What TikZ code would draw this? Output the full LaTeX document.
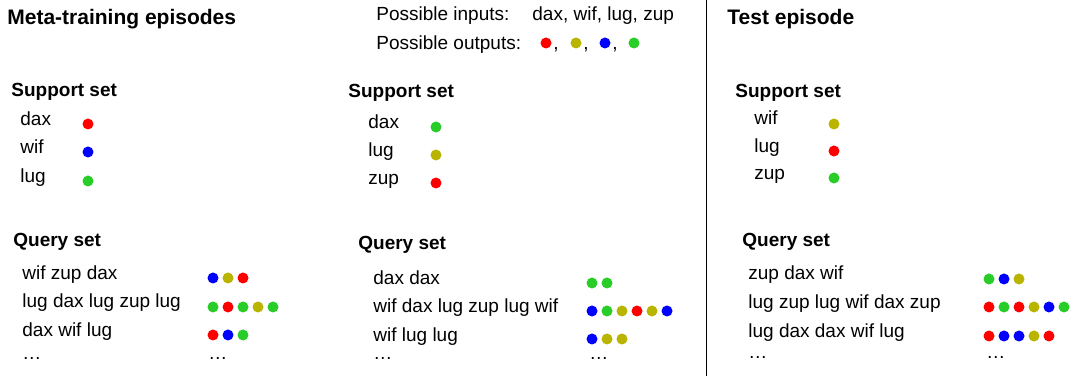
\documentclass[tikz,border=0pt]{standalone}
\usepackage{fontspec}
\setmainfont{Liberation Sans}
\definecolor{dotred}{RGB}{255,0,0}
\definecolor{dotolive}{RGB}{185,180,0}
\definecolor{dotblue}{RGB}{0,0,255}
\definecolor{dotgreen}{RGB}{40,205,40}
% a row of coloured dots: name, x, y, colours
\newcommand{\dotrow}[4]{%
  \foreach \c [count=\i] in {#4}
    {\node[dot node,fill=\c] (#1-\i) at ({#2+15*(\i-1)},#3) {};}}

\begin{document}
\begin{tikzpicture}
        [
        x = 0.5pt, y = -0.5pt,
        ]
        \tikzstyle{title node}=[anchor=base west,inner sep=0,font=\fontsize{10.5}{12}\selectfont\bfseries]
        \tikzstyle{head node}=[anchor=base west,inner sep=0,font=\fontsize{9.5}{11}\selectfont\bfseries]
        \tikzstyle{word node}=[anchor=base west,inner sep=0,font=\fontsize{9.5}{11}\selectfont]
        \tikzstyle{dot node}=[circle,inner sep=0,minimum size=5.5pt]

        \useasboundingbox (0,0) rectangle (1078,378);

        % meta-training, first episode
        \node[title node] (meta) at (7,25) {Meta-training episodes};
        \node[head node] (sup1) at (11,97) {Support set};
        \node[word node] (sup1-a) at (20,126) {dax};
        \node[word node] (sup1-b) at (20,154) {wif};
        \node[word node] (sup1-c) at (20,183) {lug};
        \dotrow{sdot1a}{88}{124}{dotred}
        \dotrow{sdot1b}{88}{152}{dotblue}
        \dotrow{sdot1c}{88}{181}{dotgreen}
        \node[head node] (qry1) at (13,247) {Query set};
        \node[word node] (qry1-a) at (22,280) {wif zup dax};
        \node[word node] (qry1-b) at (22,308) {lug dax lug zup lug};
        \node[word node] (qry1-c) at (22,337) {dax wif lug};
        \node[word node] (qry1-d) at (22,360) {…};
        \dotrow{qdot1a}{213}{278}{dotblue,dotolive,dotred}
        \dotrow{qdot1b}{213}{307}{dotgreen,dotred,dotgreen,dotolive,dotgreen}
        \dotrow{qdot1c}{213}{335}{dotred,dotblue,dotgreen}
        \node[word node] (qdot1-d) at (208,360) {…};

        % possible inputs and outputs
        \node[word node] (inputs) at (376,21) {Possible inputs:};
        \node[word node] (inlist) at (532,21) {dax, wif, lug, zup};
        \node[word node] (outputs) at (376,50) {Possible outputs:};
        \dotrow{outdot}{546}{43}{dotred}
        \dotrow{outdot2}{576}{43}{dotolive}
        \dotrow{outdot3}{605}{43}{dotblue}
        \dotrow{outdot4}{634}{43}{dotgreen}
        \node[word node] (comma1) at (553,50) {,};
        \node[word node] (comma2) at (583,50) {,};
        \node[word node] (comma3) at (612,50) {,};

        % meta-training, second episode
        \node[head node] (sup2) at (348,98) {Support set};
        \node[word node] (sup2-a) at (368,129) {dax};
        \node[word node] (sup2-b) at (368,157) {lug};
        \node[word node] (sup2-c) at (368,185) {zup};
        \dotrow{sdot2a}{436}{127}{dotgreen}
        \dotrow{sdot2b}{436}{155}{dotolive}
        \dotrow{sdot2c}{436}{183}{dotred}
        \node[head node] (qry2) at (358,250) {Query set};
        \node[word node] (qry2-a) at (373,285) {dax dax};
        \node[word node] (qry2-b) at (373,313) {wif dax lug zup lug wif};
        \node[word node] (qry2-c) at (373,342) {wif lug lug};
        \node[word node] (qry2-d) at (373,360) {…};
        \dotrow{qdot2a}{592}{283}{dotgreen,dotgreen}
        \dotrow{qdot2b}{592}{311}{dotblue,dotgreen,dotolive,dotred,dotolive,dotblue}
        \dotrow{qdot2c}{592}{339}{dotblue,dotolive,dotolive}
        \node[word node] (qdot2-d) at (589,360) {…};

        % divider
        \coordinate (divtop) at (706.5,0);
        \coordinate (divbot) at (706.5,376);
        \draw[line width=0.75pt] (divtop) -- (divbot);

        % test episode
        \node[title node] (test) at (727,25) {Test episode};
        \node[head node] (sup3) at (735,98) {Support set};
        \node[word node] (sup3-a) at (754,125) {wif};
        \node[word node] (sup3-b) at (754,153) {lug};
        \node[word node] (sup3-c) at (754,180) {zup};
        \dotrow{sdot3a}{834}{124}{dotolive}
        \dotrow{sdot3b}{834}{151}{dotred}
        \dotrow{sdot3c}{834}{178}{dotgreen}
        \node[head node] (qry3) at (742,247) {Query set};
        \node[word node] (qry3-a) at (748,280) {zup dax wif};
        \node[word node] (qry3-b) at (748,309) {lug zup lug wif dax zup};
        \node[word node] (qry3-c) at (748,338) {lug dax dax wif lug};
        \node[word node] (qry3-d) at (748,359) {…};
        \dotrow{qdot3a}{989}{279}{dotgreen,dotblue,dotolive}
        \dotrow{qdot3b}{989}{307}{dotred,dotgreen,dotred,dotolive,dotblue,dotgreen}
        \dotrow{qdot3c}{989}{336}{dotred,dotblue,dotblue,dotolive,dotred}
        \node[word node] (qdot3-d) at (986,359) {…};
\end{tikzpicture}
\end{document}
